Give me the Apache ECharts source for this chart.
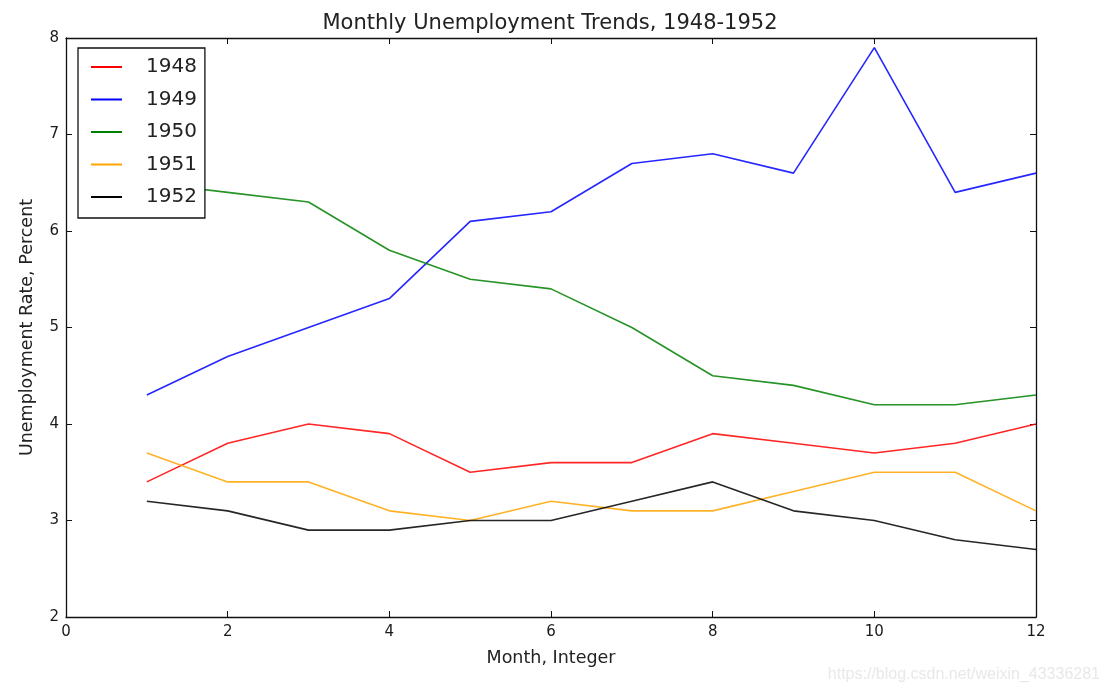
<!DOCTYPE html>
<html>
<head>
<meta charset="utf-8">
<script src="https://cdn.jsdelivr.net/npm/echarts@6/dist/echarts.min.js"></script>
<style>html,body{margin:0;padding:0;background:#fff;}#c{width:1109px;height:693px;}</style>
</head>
<body>
<div id="c"></div>
<script>
var months = [1,2,3,4,5,6,7,8,9,10,11,12];
var y1948 = [3.4,3.8,4.0,3.9,3.5,3.6,3.6,3.9,3.8,3.7,3.8,4.0];
var y1949 = [4.3,4.7,5.0,5.3,6.1,6.2,6.7,6.8,6.6,7.9,6.4,6.6];
var y1950 = [6.5,6.4,6.3,5.8,5.5,5.4,5.0,4.5,4.4,4.2,4.2,4.3];
var y1951 = [3.7,3.4,3.4,3.1,3.0,3.2,3.1,3.1,3.3,3.5,3.5,3.1];
var y1952 = [3.2,3.1,2.9,2.9,3.0,3.0,3.2,3.4,3.1,3.0,2.8,2.7];
var seriesNames = ['1948','1949','1950','1951','1952'];
var seriesColors = ['#ff0000','#0000ff','#008000','#ffa500','#000000'];
var seriesValues = [y1948,y1949,y1950,y1951,y1952];

var FONT = 'DejaVu Sans';
var chart = echarts.init(document.getElementById('c'));
function pairs(v){ return months.map(function(m,i){ return [m, v[i]]; }); }
var series = seriesNames.map(function(n,i){
  return {
    name: n, type: 'line', data: pairs(seriesValues[i]), symbol: 'none',
    lineStyle: {color: seriesColors[i], width: 1.6, opacity: 0.85}, itemStyle: {color: seriesColors[i]},
    animation: false, z: 2
  };
});
function axisLine(){ return {show: true, onZero: false, lineStyle: {color: '#111', width: 1.3}}; }
function tickIn(){ return {show: true, inside: true, length: 6, lineStyle: {color: '#111', width: 1}}; }
chart.setOption({
  animation: false,
  title: {
    text: 'Monthly Unemployment Trends, 1948-1952',
    left: 545, textAlign: 'center', top: 8,
    textStyle: {fontFamily: FONT, fontSize: 21, fontWeight: 'normal', color: '#222'}
  },
  grid: {left: 66, right: 73, top: 38, bottom: 76, containLabel: false},
  legend: {
    data: seriesNames.map(function(n){ return {name: n, icon: 'rect'}; }),
    orient: 'vertical', left: 78, top: 48,
    itemWidth: 31, itemHeight: 2, itemGap: 12.5,
    padding: [9, 8, 11, 13],
    borderColor: '#111', borderWidth: 1.3, backgroundColor: '#fff',
    textStyle: {fontFamily: FONT, fontSize: 20, color: '#222', padding: [0, 0, 0, 19]},
    z: 5
  },
  xAxis: [{
    type: 'value', min: 0, max: 12, interval: 2, position: 'bottom',
    name: 'Month, Integer', nameLocation: 'middle', nameGap: 32,
    nameTextStyle: {fontFamily: FONT, fontSize: 17.5, color: '#222'},
    axisLine: axisLine(), axisTick: tickIn(), splitLine: {show: false},
    axisLabel: {fontFamily: FONT, fontSize: 15, color: '#1a1a1a', margin: 8}
  }, {
    type: 'value', min: 0, max: 12, interval: 2, position: 'top',
    axisLine: axisLine(), axisTick: tickIn(), splitLine: {show: false},
    axisLabel: {show: false}
  }],
  yAxis: [{
    type: 'value', min: 2, max: 8, interval: 1, position: 'left',
    name: 'Unemployment Rate, Percent', nameLocation: 'middle', nameGap: 30,
    nameTextStyle: {fontFamily: FONT, fontSize: 17.5, color: '#222'},
    axisLine: axisLine(), axisTick: tickIn(), splitLine: {show: false},
    axisLabel: {fontFamily: FONT, fontSize: 15, color: '#1a1a1a', margin: 7}
  }, {
    type: 'value', min: 2, max: 8, interval: 1, position: 'right',
    axisLine: axisLine(), axisTick: tickIn(), splitLine: {show: false},
    axisLabel: {show: false}
  }],
  graphic: [{
    type: 'text', right: 9, bottom: 10,
    style: {text: 'https://blog.csdn.net/weixin_43336281', fontFamily: 'Liberation Sans', fontSize: 16, fill: '#e8e8e8'}
  }],
  series: series
});
</script>
</body>
</html>
